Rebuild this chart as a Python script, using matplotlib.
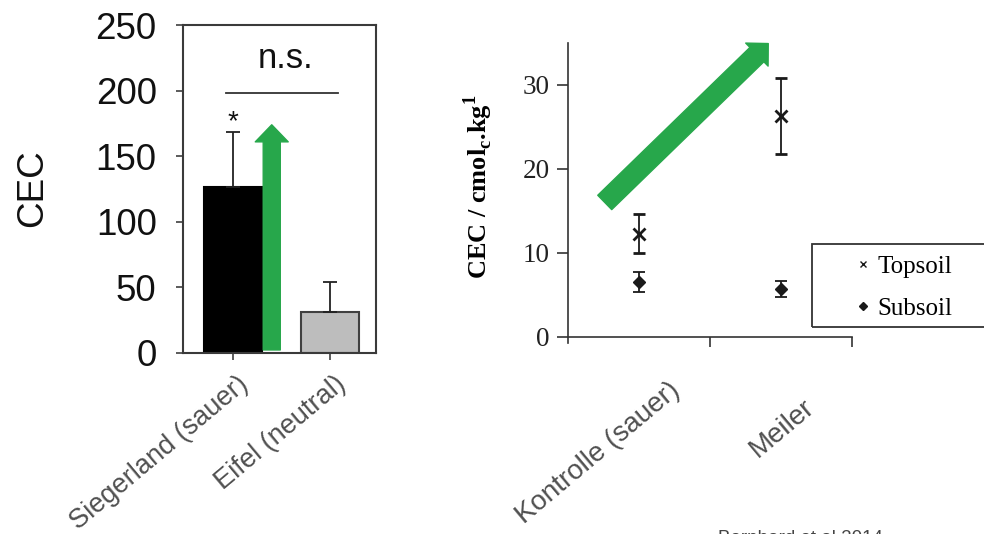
import matplotlib
matplotlib.use("Agg")
import matplotlib.pyplot as plt
from matplotlib.patches import FancyArrowPatch, Rectangle
from matplotlib.lines import Line2D
from matplotlib.transforms import offset_copy

# links: KAK je Region (Balken + Fehler nach oben)
regions = ["Siegerland (sauer)", "Eifel (neutral)"]
cec_region = [126.5, 31.2]
cec_region_err = [42.0, 23.0]
region_colors = ["#000000", "#bdbdbd"]
region_edges = ["#000000", "#404040"]

# rechts: Meiler vs. Kontrolle, Ober- und Unterboden
sites = ["Kontrolle (sauer)", "Meiler"]
topsoil = [12.3, 26.3]
topsoil_err = [2.3, 4.5]
subsoil = [6.5, 5.7]
subsoil_err = [1.2, 0.9]

green = "#27a74b"
sans = "Liberation Sans"
serif = "Liberation Serif"

plt.rcParams["font.family"] = sans
plt.rcParams["mathtext.fontset"] = "custom"
plt.rcParams["mathtext.rm"] = serif
plt.rcParams["mathtext.bf"] = serif + ":bold"

fig = plt.figure(figsize=(9.84, 5.34), dpi=100)
ax1 = fig.add_axes([0.186, 0.339, 0.196, 0.614])
ax2 = fig.add_axes([0.577, 0.358, 0.289, 0.562])

# ---- linkes Diagramm ----
x1 = list(range(len(regions)))
ax1.bar(x1, cec_region, width=0.59, color=region_colors, edgecolor=region_edges,
        linewidth=1.5, yerr=[[0] * len(x1), cec_region_err],
        error_kw=dict(ecolor="#222222", elinewidth=1.3, capsize=5, capthick=1.3),
        zorder=2)
ax1.set_xlim(-0.515, 1.474)
ax1.set_ylim(0, 250)
ax1.set_yticks(range(0, 251, 50))
ax1.set_xticks(x1)
ax1.set_xticklabels([])
ax1.tick_params(axis="y", labelsize=26.5, length=5, width=1.2, pad=14,
                color="#404040", labelcolor="#111111")
ax1.tick_params(axis="x", length=5, width=1.2, color="#404040")
for s in ax1.spines.values():
    s.set_color("#3a3a3a")
    s.set_linewidth(1.5)
ax1.set_ylabel("CEC", fontsize=26.5, color="#111111")
ax1.yaxis.set_label_coords(-0.69, 0.503)

lab_tr = offset_copy(ax1.get_xaxis_transform(), fig=fig, x=3, y=-13, units="points")
for i, name in enumerate(regions):
    ax1.text(i, 0, name, transform=lab_tr, rotation=40, rotation_mode="anchor",
             ha="right", va="top", fontsize=19.5, color="#505050")

# Signifikanz
top = cec_region[0] + cec_region_err[0]
ax1.text(0, top + 2, "*", ha="center", va="baseline", fontsize=20, color="#111111")
ax1.plot([-0.07, 1.08], [198, 198], color="#333333", lw=1.3)
ax1.text(0.54, 217, "n.s.", ha="center", va="baseline", fontsize=25, color="#111111")

ax1.add_patch(FancyArrowPatch((0.40, 2.3), (0.40, 174),
                              arrowstyle="simple,head_width=0.79,head_length=0.41,tail_width=0.41",
                              mutation_scale=30, color=green, shrinkA=0, shrinkB=0, zorder=3))

# ---- rechtes Diagramm ----
xs = [0.5 + i for i in range(len(sites))]
ax2.errorbar(xs, topsoil, yerr=topsoil_err, fmt="x", color="#1a1a1a", ms=9, mew=2,
             elinewidth=1.3, capsize=4, capthick=1.3, zorder=3)
ax2.errorbar(xs, subsoil, yerr=subsoil_err, fmt="D", color="#1a1a1a", ms=6.5,
             elinewidth=1.3, capsize=4, capthick=1.3, zorder=3)
ax2.set_xlim(0, 2)
ax2.set_ylim(-0.7, 35)
ax2.spines["top"].set_visible(False)
ax2.spines["right"].set_visible(False)
ax2.spines["bottom"].set_position(("data", 0))
for s in ("left", "bottom"):
    ax2.spines[s].set_color("#333333")
    ax2.spines[s].set_linewidth(1.2)
ax2.set_yticks([0, 10, 20, 30])
ax2.set_xticks([1, 2])
ax2.set_xticklabels([])
ax2.tick_params(axis="y", length=8, width=1.2, pad=5, labelsize=19.5, color="#333333",
                labelcolor="#222222")
ax2.tick_params(axis="x", length=7, width=1.2, color="#333333")
for t in ax2.get_yticklabels():
    t.set_family(serif)
ax2.set_ylabel(r"CEC / cmol$_\mathbf{c}$.kg$^\mathbf{1}$", fontsize=19,
               fontweight="bold", family=serif)
ax2.yaxis.set_label_coords(-0.255, 0.52)

# Beschriftungen etwas unterschiedlich versetzt (lange vs. kurze Bezeichnung)
label_shift = [(21, -25), (15.5, -37)]
for i, name in enumerate(sites):
    tr = offset_copy(ax2.get_xaxis_transform(), fig=fig, x=label_shift[i][0],
                     y=label_shift[i][1], units="points")
    ax2.text(xs[i], 0, name, transform=tr, rotation=40, rotation_mode="anchor",
             ha="right", va="top", fontsize=20, color="#505050")

ax2.add_patch(FancyArrowPatch((0.26, 16.0), (1.41, 34.9),
                              arrowstyle="simple,head_width=0.77,head_length=0.38,tail_width=0.48",
                              mutation_scale=30, color=green, shrinkA=0, shrinkB=0,
                              zorder=2, clip_on=False))

# Legende mit Rahmen, der über den Bildrand hinausläuft
handles = [Line2D([], [], ls="none", marker="x", ms=5, mew=1, color="#1a1a1a"),
           Line2D([], [], ls="none", marker="D", ms=4, color="#1a1a1a")]
fig.legend(handles, ["Topsoil", "Subsoil"], loc="upper left",
           bbox_to_anchor=(0.869, 0.522), frameon=False, borderpad=0,
           borderaxespad=0, handlelength=0.6, handletextpad=0.3, labelspacing=0.78,
           prop={"family": serif, "size": 18})
fig.patches.append(Rectangle((0.825, 0.388), 0.2, 0.155, transform=fig.transFigure,
                             fill=False, edgecolor="#333333", lw=1.3))

fig.text(0.730, 0.008, "Bernhard et al 2014", ha="left", va="top", fontsize=13.5,
         color="#444444")

fig.savefig("out.png", dpi=100)
